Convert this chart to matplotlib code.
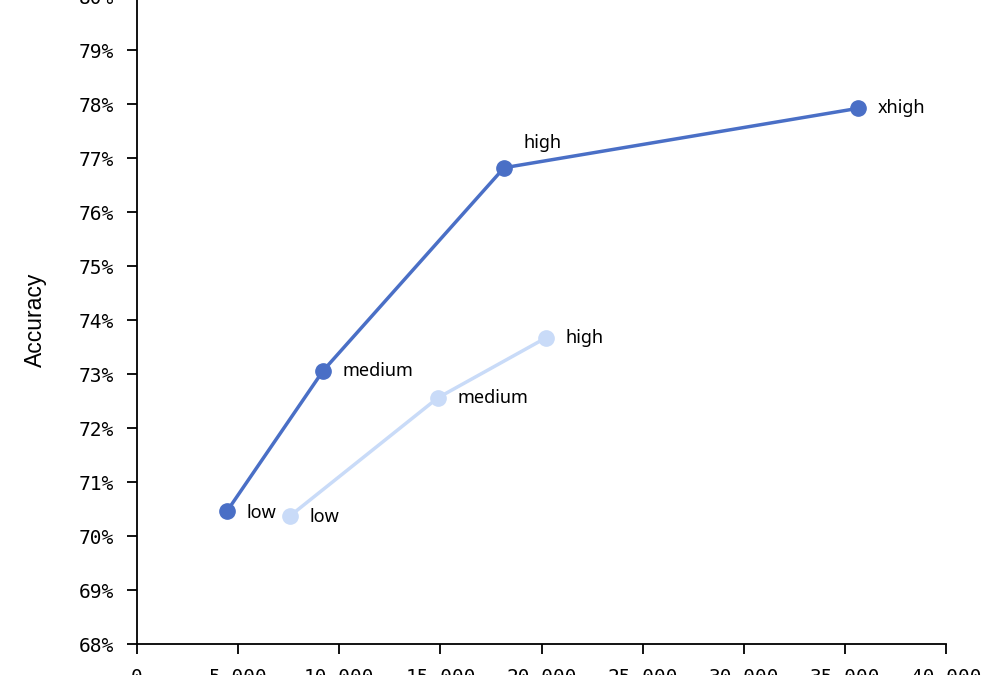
import matplotlib.pyplot as plt
from matplotlib.ticker import FuncFormatter

# series A (dark)
levels_a = ["low", "medium", "high", "xhigh"]
tokens_a = [4450, 9200, 18150, 35650]
acc_a = [70.46, 73.06, 76.82, 77.92]

# series B (light)
levels_b = ["low", "medium", "high"]
tokens_b = [7560, 14880, 20220]
acc_b = [70.37, 72.56, 73.67]

dark = "#4a6fc6"
light = "#c9dbf8"

fig = plt.figure(figsize=(10, 6.75), dpi=100)
ax = fig.add_axes([0.137, 0.0459, 0.809, 0.96])

ax.plot(tokens_b, acc_b, color=light, linewidth=2.5, marker="o", markersize=11, zorder=2)
ax.plot(tokens_a, acc_a, color=dark, linewidth=2.5, marker="o", markersize=11, zorder=3)

# point labels
offs_a = {"low": (14, -1), "medium": (14, 0), "high": (14, 18), "xhigh": (14, 0)}
offs_b = {"low": (14, -1), "medium": (14, 0), "high": (14, 0)}
for lab, x, y in zip(levels_a, tokens_a, acc_a):
    ax.annotate(lab, (x, y), xytext=offs_a[lab], textcoords="offset points",
                va="center", ha="left", fontsize=13, family="Noto Sans")
for lab, x, y in zip(levels_b, tokens_b, acc_b):
    ax.annotate(lab, (x, y), xytext=offs_b[lab], textcoords="offset points",
                va="center", ha="left", fontsize=13, family="Noto Sans")

ax.set_xlim(0, 40000)
ax.set_ylim(68, 80)
ax.set_xticks(range(0, 40001, 5000))
ax.set_yticks(range(68, 81))
ax.xaxis.set_major_formatter(FuncFormatter(lambda v, p: f"{int(v):,}"))
ax.yaxis.set_major_formatter(FuncFormatter(lambda v, p: f"{int(v)}%"))

for s in ["top", "right"]:
    ax.spines[s].set_visible(False)
for s in ["left", "bottom"]:
    ax.spines[s].set_linewidth(1.3)
ax.tick_params(direction="out", length=7, width=1.3, labelsize=14)
ax.tick_params(axis="y", pad=9.5)
ax.tick_params(axis="x", pad=10.5)
for t in ax.get_xticklabels() + ax.get_yticklabels():
    t.set_family("DejaVu Sans Mono")

ax.set_ylabel("Accuracy", fontsize=16.5, family="Liberation Sans", labelpad=23)

fig.savefig("out.png", dpi=100)
